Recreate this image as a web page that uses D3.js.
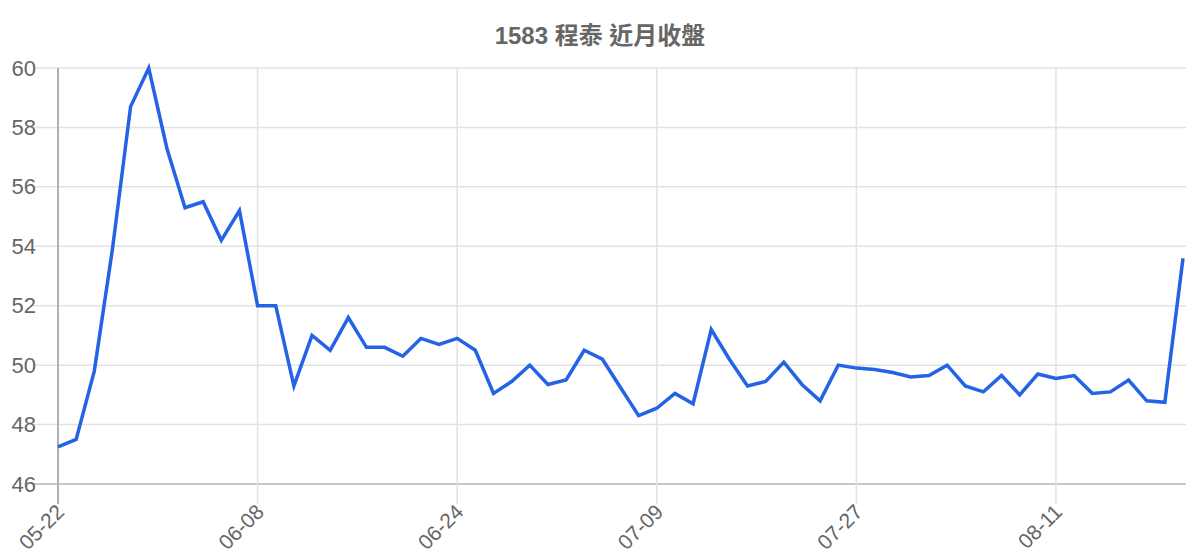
<!DOCTYPE html>
<html>
<head>
<meta charset="utf-8">
<script src="https://cdn.jsdelivr.net/npm/d3@7"></script>
<style>
  body { margin: 0; background: #fff; }
  svg { display: block; font-family: "Liberation Sans", Arial, "Noto Sans CJK TC", sans-serif; }
</style>
</head>
<body>
<div id="chart-area"></div>
<script>
// closing prices, trading days
var dates = ["05-22", "05-25", "05-26", "05-27", "05-28", "05-29", "06-01", "06-02", "06-03", "06-04",
    "06-05", "06-08", "06-09", "06-10", "06-11", "06-12", "06-15", "06-16", "06-17", "06-18",
    "06-22", "06-23", "06-24", "06-25", "06-26", "06-29", "06-30", "07-01", "07-02", "07-03",
    "07-06", "07-07", "07-08", "07-09", "07-13", "07-14", "07-15", "07-16", "07-17", "07-20",
    "07-21", "07-22", "07-23", "07-24", "07-27", "07-28", "07-29", "07-30", "07-31", "08-03",
    "08-04", "08-05", "08-06", "08-07", "08-10", "08-11", "08-12", "08-13", "08-14", "08-17",
    "08-18", "08-19", "08-20"];
var closes = [47.25, 47.5, 49.8, 53.9, 58.7, 60, 57.3, 55.3, 55.5, 54.2,
    55.2, 52.0, 52.0, 49.3, 51.0, 50.5, 51.6, 50.6, 50.6, 50.3,
    50.9, 50.7, 50.9, 50.5, 49.05, 49.45, 50.0, 49.35, 49.5, 50.5,
    50.2, 49.25, 48.3, 48.55, 49.05, 48.7, 51.2, 50.2, 49.3, 49.45,
    50.1, 49.35, 48.8, 50.0, 49.9, 49.85, 49.75, 49.6, 49.65, 50.0,
    49.3, 49.1, 49.65, 49.0, 49.7, 49.55, 49.65, 49.05, 49.1, 49.5,
    48.8, 48.75, 53.6];
var shownDates = ["05-22", "06-08", "06-24", "07-09", "07-27", "08-11"];
var yTicks = [46, 48, 50, 52, 54, 56, 58, 60];

var margin = { left: 58, right: 16, top: 68, bottom: 76 };
var width = 1200 - margin.left - margin.right;
var height = 560 - margin.top - margin.bottom;

var svg = d3.select("#chart-area")
    .append("svg")
    .attr("width", 1200)
    .attr("height", 560);

svg.append("text")
    .attr("x", 600)
    .attr("y", 44)
    .attr("text-anchor", "middle")
    .attr("fill", "#666")
    .style("font-size", "24px")
    .style("font-weight", "bold")
    .text("1583 程泰 近月收盤");

var g = svg.append("g")
    .attr("transform", "translate(" + margin.left + ", " + margin.top + ")");

var x = d3.scalePoint()
    .domain(dates)
    .range([0, width - 1]);

var y = d3.scaleLinear()
    .domain([46, 60])
    .range([height, 0]);

// horizontal grid
g.append("g")
    .selectAll("line")
    .data(yTicks)
    .enter().append("line")
    .attr("x1", -24)
    .attr("x2", width + 2)
    .attr("y1", function(d) { return y(d); })
    .attr("y2", function(d) { return y(d); })
    .attr("stroke", function(d) { return d == 46 ? "#c8c8c8" : "#e2e2e2"; })
    .attr("stroke-width", function(d) { return d == 46 ? 2 : 1.5; });

// vertical grid
g.append("g")
    .selectAll("line")
    .data(shownDates)
    .enter().append("line")
    .attr("x1", function(d) { return x(d); })
    .attr("x2", function(d) { return x(d); })
    .attr("y1", 0)
    .attr("y2", height + 20)
    .attr("stroke", function(d, i) { return i == 0 ? "#b0b0b0" : "#e2e2e2"; })
    .attr("stroke-width", function(d, i) { return i == 0 ? 2 : 1.5; });

// y labels
var yAxis = d3.axisLeft(y).tickValues(yTicks).tickSize(0).tickPadding(22);
var yAxisGroup = g.append("g").call(yAxis);
yAxisGroup.select(".domain").remove();
yAxisGroup.selectAll("text")
    .attr("fill", "#666")
    .style("font-size", "22px")
    .style("font-family", "Liberation Sans, Arial, sans-serif");

// x labels
var xAxis = d3.axisBottom(x).tickValues(shownDates).tickSize(0);
var xAxisGroup = g.append("g")
    .attr("transform", "translate(0, " + height + ")")
    .call(xAxis);
xAxisGroup.select(".domain").remove();
xAxisGroup.selectAll("text")
    .attr("fill", "#666")
    .style("font-size", "21px")
    .style("font-family", "Liberation Sans, Arial, sans-serif")
    .attr("text-anchor", "end")
    .attr("dy", 0)
    .attr("transform", "translate(5, 27) rotate(-45)");

var line = d3.line()
    .x(function(d, i) { return x(dates[i]); })
    .y(function(d) { return y(d); });

g.append("path")
    .datum(closes)
    .attr("fill", "none")
    .attr("stroke", "#2563e6")
    .attr("stroke-width", 3.5)
    .attr("stroke-linejoin", "miter")
    .attr("d", line);
</script>
</body>
</html>
